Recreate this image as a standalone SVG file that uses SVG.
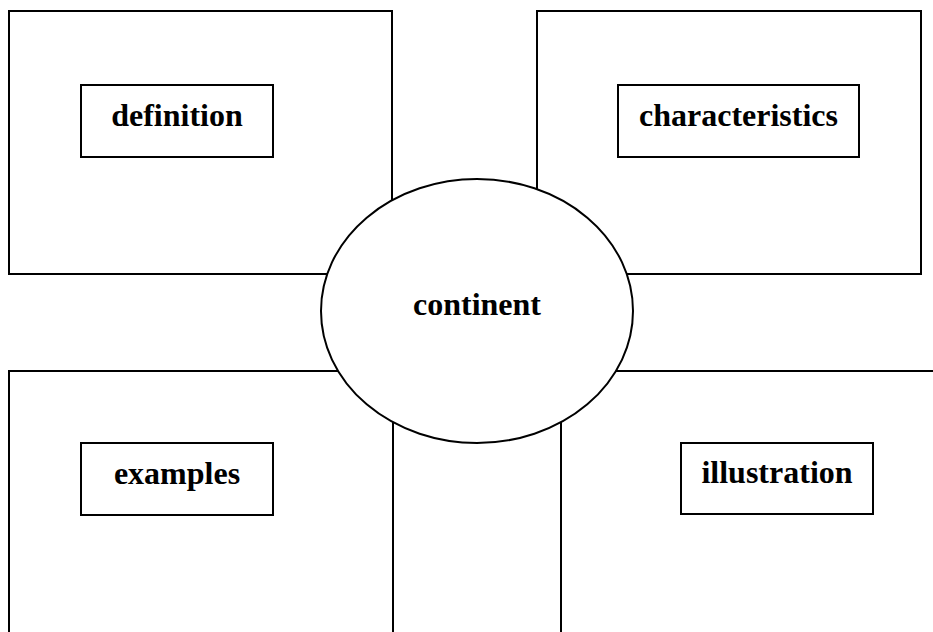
<svg xmlns="http://www.w3.org/2000/svg" width="933" height="632" viewBox="0 0 933 632">
<style>
.box{fill:#fff;stroke:#000;stroke-width:2}
.lbl{font-family:"Liberation Serif","Times New Roman",serif;font-weight:bold;font-size:32px;fill:#000;text-anchor:middle}
</style>
<rect width="933" height="632" fill="#fff"/>
<g id="definition-panel">
<rect class="box" x="9" y="11" width="383" height="263"/>
<rect class="box" x="81" y="85" width="192" height="72"/>
<text class="lbl" x="177" y="126">definition</text>
</g>
<g id="characteristics-panel">
<rect class="box" x="537" y="11" width="384" height="263"/>
<rect class="box" x="618" y="85" width="241" height="72"/>
<text class="lbl" x="738.5" y="126">characteristics</text>
</g>
<g id="examples-panel">
<rect class="box" x="9" y="371" width="384" height="300"/>
<rect class="box" x="81" y="443" width="192" height="72"/>
<text class="lbl" x="177" y="484">examples</text>
</g>
<g id="illustration-panel">
<rect class="box" x="561" y="371" width="400" height="300"/>
<rect class="box" x="681" y="443" width="192" height="71"/>
<text class="lbl" x="777" y="483">illustration</text>
</g>
<g id="connectors"></g>
<g id="continent">
<ellipse class="box" cx="477" cy="311" rx="156" ry="132"/>
<text class="lbl" x="477" y="315">continent</text>
</g>
</svg>
